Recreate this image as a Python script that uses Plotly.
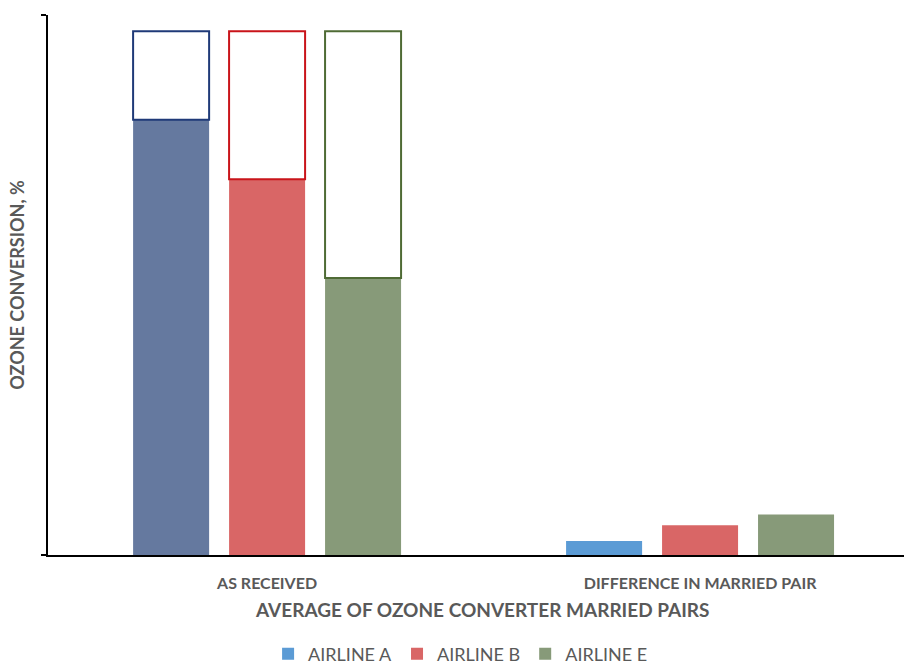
import plotly.graph_objects as go

# Category labels and series
categories = ["AS RECEIVED", "DIFFERENCE IN MARRIED PAIR"]
airlines = ["AIRLINE A", "AIRLINE B", "AIRLINE E"]

# Ozone conversion (%) of the as-received converter, per airline
as_received = [80.6, 69.6, 51.3]
# Conversion of a new converter (outlined top of each as-received column)
new_converter = [97.0, 97.0, 97.0]
# Average difference within a married pair
pair_difference = [2.6, 5.5, 7.5]

legend_colors = ["#5B9BD5", "#D96666", "#879A79"]
received_colors = ["#65799F", "#D96666", "#879A79"]
outline_colors = ["#1F3A78", "#C9141A", "#4F6B35"]

TEXT = "#595959"
FONT = "Lato"

fig = go.Figure()

for i, name in enumerate(airlines):
    grp = f"g{i}"
    # filled as-received part
    fig.add_trace(go.Bar(
        x=[categories[0]], y=[as_received[i]],
        offsetgroup=grp, marker=dict(color=received_colors[i], line=dict(width=0)),
        showlegend=False, name=name, hoverinfo="skip",
    ))
    # outlined remainder up to the new converter level
    fig.add_trace(go.Bar(
        x=[categories[0]], y=[new_converter[i] - as_received[i]], base=[as_received[i]],
        offsetgroup=grp,
        marker=dict(color="rgba(255,255,255,1)", line=dict(color=outline_colors[i], width=2)),
        showlegend=False, name=name, hoverinfo="skip",
    ))
    # married pair difference
    fig.add_trace(go.Bar(
        x=[categories[1]], y=[pair_difference[i]],
        offsetgroup=grp, marker=dict(color=legend_colors[i], line=dict(width=0)),
        name=name, showlegend=True,
    ))

fig.update_layout(
    width=904, height=666,
    margin=dict(l=48, r=0, t=15, b=111, autoexpand=False),
    paper_bgcolor="white", plot_bgcolor="white",
    barmode="group", bargap=0.335, bargroupgap=0.208,
    font=dict(family=FONT, color=TEXT),
    showlegend=True,
    legend=dict(
        orientation="h", x=0.482, xanchor="center",
        yref="container", y=1 - 654 / 666, yanchor="middle",
        font=dict(size=18, color=TEXT, family=FONT),
        itemsizing="constant", traceorder="normal", itemwidth=30,
    ),
    xaxis=dict(
        type="category", categoryorder="array", categoryarray=categories,
        range=[-0.506, 1.471],
        showline=True, linecolor="black", linewidth=2,
        ticks="", showgrid=False, zeroline=False,
        ticklabelstandoff=13,
        tickfont=dict(size=16, color=TEXT, family=FONT),
    ),
    yaxis=dict(
        range=[0, 100],
        showline=True, linecolor="black", linewidth=2,
        ticks="outside", ticklen=5, tickwidth=2, tickcolor="black",
        tickvals=[0, 100], showticklabels=False,
        showgrid=False, zeroline=False,
        title=dict(text="<b>OZONE CONVERSION, %</b>",
                   font=dict(size=18, color=TEXT, family=FONT),
                   standoff=12),
    ),
)

# bold category labels
fig.update_xaxes(ticktext=[f"<b>{c}</b>" for c in categories], tickvals=categories)

# x-axis title
fig.add_annotation(
    text="<b>AVERAGE OF OZONE CONVERTER MARRIED PAIRS</b>",
    xref="paper", x=0.508, xanchor="center",
    yref="paper", y=-54 / 540, yanchor="middle",
    showarrow=False, font=dict(size=19, color=TEXT, family=FONT),
)

fig.write_html("out.html")
